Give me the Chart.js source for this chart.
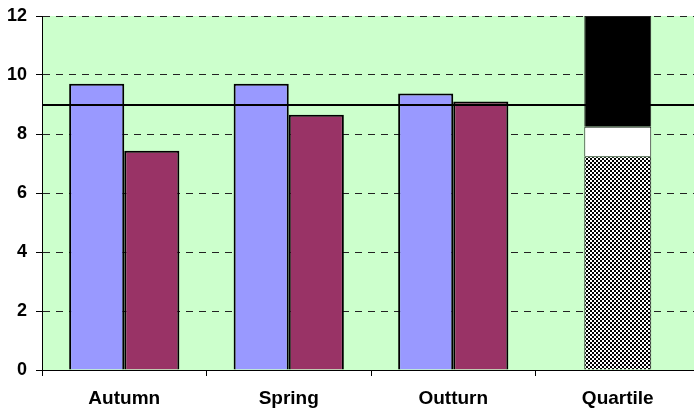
<!DOCTYPE html>
<html>
<head>
<meta charset="utf-8">
<script src="https://cdn.jsdelivr.net/npm/chart.js@4"></script>
<style>
  html, body { margin: 0; padding: 0; background: #fff; overflow: hidden; }
  #wrap { width: 700px; height: 412px; }
</style>
</head>
<body>
<div id="wrap"><canvas id="c" width="700" height="412"></canvas></div>
<script>
// Categories and values
const categories = ['Autumn', 'Spring', 'Outturn', 'Quartile'];
const seriesA = [9.7, 9.7, 9.37, null];
const seriesB = [7.43, 8.65, 9.1, null];
// Quartile column, stacked from the bottom up
const quartileLower = [null, null, null, 7.25];
const quartileMiddle = [null, null, null, 1.0];
const quartileUpper = [null, null, null, 3.75];
const targetLevel = 9;
const yMin = 0, yMax = 12, yStep = 2;

// Small black/white checker used for the lower quartile block
function checkerPattern() {
  const t = document.createElement('canvas');
  t.width = 4; t.height = 4;
  const g = t.getContext('2d');
  g.fillStyle = '#fff'; g.fillRect(0, 0, 4, 4);
  g.fillStyle = '#000';
  g.fillRect(0, 0, 2, 2);
  g.fillRect(2, 2, 2, 2);
  return g.createPattern(t, 'repeat');
}

const plotBackground = {
  id: 'plotBackground',
  beforeDraw(chart) {
    const { ctx, chartArea: a } = chart;
    ctx.save();
    ctx.fillStyle = '#ccffcc';
    ctx.fillRect(a.left, a.top, a.right - a.left, a.bottom - a.top);
    ctx.restore();
  }
};

const targetLine = {
  id: 'targetLine',
  afterDatasetsDraw(chart) {
    const { ctx, chartArea: a, scales } = chart;
    const y = Math.round(scales.y.getPixelForValue(targetLevel));
    ctx.save();
    ctx.strokeStyle = '#000';
    ctx.lineWidth = 2;
    ctx.beginPath();
    ctx.moveTo(a.left, y);
    ctx.lineTo(a.right, y);
    ctx.stroke();
    ctx.restore();
  }
};

const labelFont = { family: '"Liberation Sans", Arial, sans-serif', weight: 'bold' };
const quartileStyle = { stack: 'q', grouped: false, borderColor: '#222', borderWidth: 1,
  categoryPercentage: 0.407, barPercentage: 1 };

new Chart(document.getElementById('c'), {
  type: 'bar',
  data: {
    labels: categories,
    datasets: [
      { data: seriesA, backgroundColor: '#9999ff', borderColor: '#000', borderWidth: 2, stack: 'a',
        categoryPercentage: 0.67, barPercentage: 1 },
      { data: seriesB, backgroundColor: '#993366', borderColor: '#000', borderWidth: 2, stack: 'b',
        categoryPercentage: 0.67, barPercentage: 1 },
      { data: quartileLower, backgroundColor: checkerPattern(), ...quartileStyle },
      { data: quartileMiddle, backgroundColor: '#fff', ...quartileStyle },
      { data: quartileUpper, backgroundColor: '#000', ...quartileStyle }
    ]
  },
  options: {
    responsive: false,
    animation: false,
    layout: { padding: { top: 16, right: 0, left: 0, bottom: 0 } },
    plugins: { legend: { display: false }, tooltip: { enabled: false } },
    scales: {
      x: {
        offset: true,
        grid: { offset: true, drawOnChartArea: false, drawTicks: true, tickLength: 6, color: '#000' },
        border: { display: true, color: '#000', width: 1 },
        ticks: { color: '#000', padding: 11, font: { ...labelFont, size: 19 } },
        afterFit(s) { s.height = 42; s.paddingLeft = 0; s.paddingRight = 0; }
      },
      y: {
        stacked: true,
        min: yMin, max: yMax,
        ticks: { stepSize: yStep, color: '#000', padding: 9, font: { ...labelFont, size: 18 } },
        grid: { color: '#222', lineWidth: 1, tickLength: 6, tickColor: '#000', drawTicks: true },
        border: { display: true, color: '#000', width: 1, dash: [7, 6] },
        afterFit(s) { s.width = 42; s.paddingTop = 0; s.paddingBottom = 0; }
      }
    }
  },
  plugins: [plotBackground, targetLine]
});
</script>
</body>
</html>
